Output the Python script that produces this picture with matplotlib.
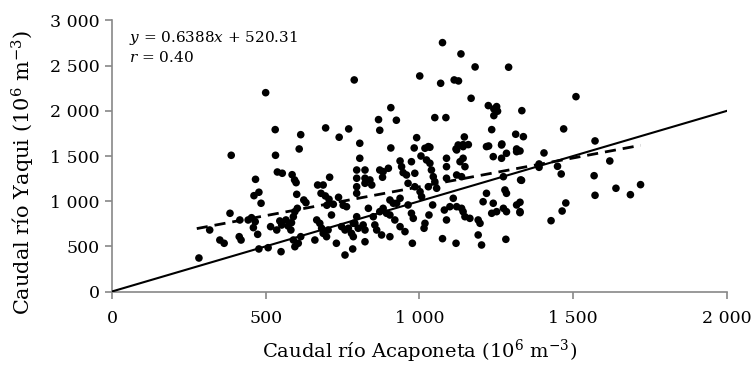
import matplotlib
matplotlib.use("Agg")
import matplotlib.pyplot as plt
import numpy as np

plt.rcParams['font.family'] = ['DejaVu Serif']
plt.rcParams['mathtext.fontset'] = 'dejavuserif'

acaponeta = [
    500, 788, 531, 614, 695, 739, 770, 609, 806,
    1075, 1135, 1181, 1290, 1001, 1069, 1113, 1127, 1168, 1224, 1242, 1251, 1242, 1254,
    1333, 907, 867, 925, 1050, 1086, 871, 1235, 1313, 1338, 991, 1146, 907, 983, 1029, 1034,
    1126, 1142, 1159, 1225, 1268, 1316, 1119,
    1509, 1469, 1571, 1405, 1327, 1619, 1389, 1389, 1449, 1461, 1568, 1332, 1639, 1719, 1686,
    1571, 1476, 1464, 1428, 1327, 1327,
    388, 532, 538, 554, 586, 594, 599, 467, 478, 462, 485, 601, 624, 631, 669, 687, 708,
    680, 694, 706, 699, 720, 737, 752, 763, 384, 318, 351, 365, 414, 420, 283, 443, 454, 466,
    460, 474, 416, 478, 508, 516, 536, 546, 552, 566, 573, 584, 590, 595, 603, 582, 550, 590,
    595, 606, 614, 660, 666, 676, 682, 687, 698, 703, 730, 714, 747, 758, 769, 779, 785, 785,
    758, 783,
    806, 796, 796, 823, 823, 823, 839, 845, 796, 796, 937, 942, 947, 974, 985, 1005, 1018,
    1023, 1034, 1039, 1045, 1050, 871, 882, 880, 899, 958, 963, 985, 1002, 1007, 1029, 1056,
    1088, 1088, 1088, 1121, 1142, 1142, 1148, 1132, 1121, 1137, 1218, 1267, 1240, 1267, 1283,
    1316, 1273, 1329, 1218, 1278, 1283, 1207, 1240, 1251, 1235, 1273, 1283, 1316, 1327, 1110,
    1121, 1137, 1142, 1081, 1099, 1088, 1148, 1164, 1191, 1197, 1191, 1202, 1281, 1119, 1075,
    977, 1018, 1015, 1031, 1043, 974, 980, 963, 937, 926, 904, 915, 882, 893, 871, 904, 920,
    834, 796, 790, 801, 817, 823, 850, 855, 861, 877, 904, 937, 953, 823,
]
yaqui = [
    2201, 2342, 1792, 1736, 1811, 1708, 1800, 1578, 1641,
    2755, 2630, 2486, 2483, 2386, 2305, 2342, 2331, 2139, 2058, 2021, 2047, 1947, 1996,
    2002, 2035, 1903, 1896, 1925, 1925, 1785, 1792, 1741, 1714, 1703, 1711, 1589, 1589, 1604, 1597,
    1622, 1626, 1626, 1611, 1633, 1578, 1578,
    2157, 1800, 1667, 1534, 1556, 1445, 1375, 1412, 1386, 1301, 1282, 1231, 1143, 1183, 1072,
    1065, 980, 891, 784, 988, 873,
    1508, 1508, 1323, 1309, 1293, 1235, 1205, 1242, 1099, 1061, 977, 1076, 1013, 983, 1179, 1179, 1265,
    1087, 1058, 1021, 955, 966, 1043, 955, 939, 866, 681, 570, 534, 607, 570, 371, 792, 817, 773,
    707, 633, 792, 471, 485, 718, 681, 781, 736, 792, 725, 762, 828, 884, 921, 681, 441, 570,
    496, 534, 607, 570, 792, 755, 700, 644, 607, 681, 534, 847, 718, 681, 700, 644, 755, 607,
    404, 471,
    1475, 1345, 1254, 1345, 1254, 1198, 1235, 1179, 1160, 1087, 1445, 1382, 1316, 1437, 1309, 1500, 1586,
    1456, 1420, 1345, 1271, 1216, 1345, 1327, 1265, 1364, 1290, 1198, 1160, 1105, 1050, 1160, 1143,
    1475, 1382, 1254, 1567, 1604, 1475, 1382, 1437, 1290, 1271, 1604, 1622, 1493, 1475, 1530,
    1548, 1271, 1235, 1087, 1124, 1087, 994, 977, 884, 866, 921, 884, 958, 884, 1032,
    939, 921, 884, 902, 939, 792, 828, 810, 792, 755, 626, 515, 578, 534, 585,
    534, 755, 700, 847, 958, 866, 810, 958, 1032, 977, 1013, 977, 921, 866, 884, 847, 792,
    921, 828, 755, 700, 737, 681, 828, 737, 681, 626, 607, 718, 663, 551,
]

slope = 0.6388
intercept = 520.31
fit_x = [276, 1719]
ref_x = [0, 2000]

fig = plt.figure(figsize=(7.51, 3.66), dpi=100)
ax = fig.add_axes([0.149, 0.2035, 0.819, 0.7405])

ax.scatter(acaponeta, yaqui, s=30, color='black', edgecolors='none', zorder=3)
ax.plot(ref_x, ref_x, color='black', lw=1.5, zorder=4)
fx = np.array(fit_x)
ax.plot(fx, slope * fx + intercept, color='black', lw=2.0, ls=(0, (4, 2.5)), zorder=4)

ax.set_xlim(0, 2000)
ax.set_ylim(0, 3000)
ax.set_xticks([0, 500, 1000, 1500, 2000])
ax.set_xticklabels(['0', '500', '1 000', '1 500', '2 000'])
ax.set_yticks([0, 500, 1000, 1500, 2000, 2500, 3000])
ax.set_yticklabels(['0', '500', '1 000', '1 500', '2 000', '2 500', '3 000'])

for s in ['top', 'right']:
    ax.spines[s].set_visible(False)
for s in ['left', 'bottom']:
    ax.spines[s].set_color('#888888')
    ax.spines[s].set_linewidth(1.2)
ax.tick_params(axis='both', direction='out', length=5, width=1.2, color='#888888',
               labelsize=12.5, labelcolor='black')
ax.tick_params(axis='x', pad=8)
ax.tick_params(axis='y', pad=4)

ax.set_xlabel('Caudal río Acaponeta (10$^{6}$ m$^{-3}$)', fontsize=14)
ax.xaxis.set_label_coords(0.5, -0.17)
ax.set_ylabel('Caudal río Yaqui (10$^{6}$ m$^{-3}$)', fontsize=15)
ax.yaxis.set_label_coords(-0.122, 0.44)

ax.text(0.027, 0.935, '$y$ = 0.6388$x$ + 520.31', transform=ax.transAxes, fontsize=11, va='center')
ax.text(0.027, 0.862, '$r$ = 0.40', transform=ax.transAxes, fontsize=11, va='center')

fig.savefig('out.png', dpi=100)
